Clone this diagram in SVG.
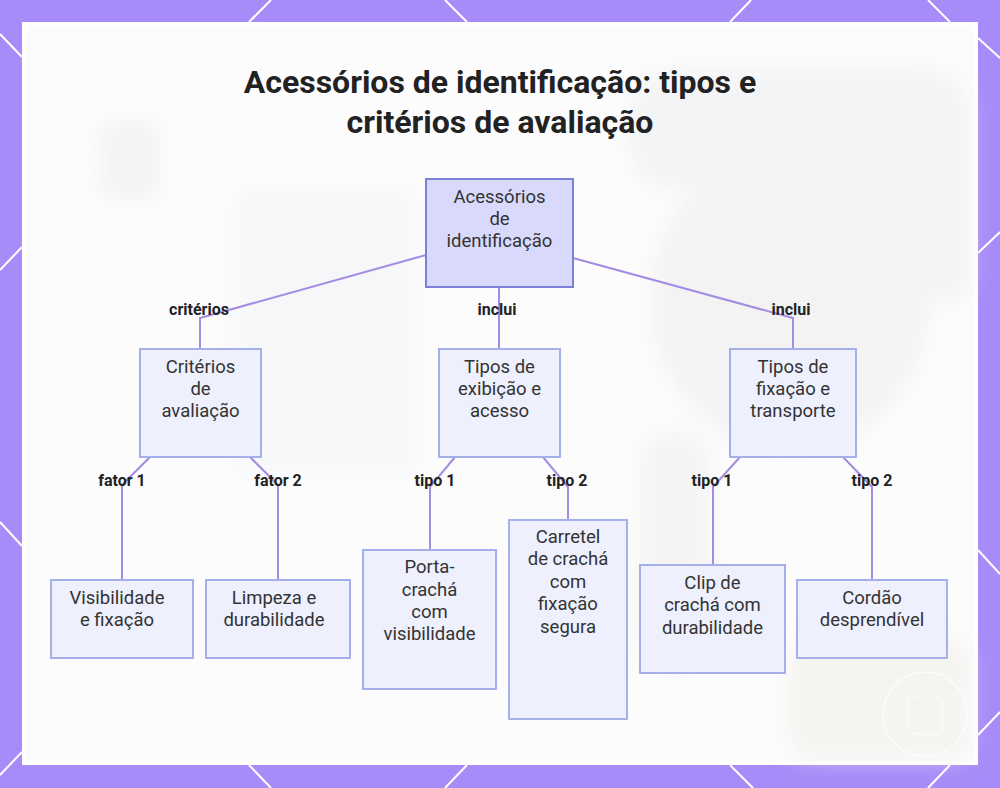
<svg xmlns="http://www.w3.org/2000/svg" width="1000" height="788" viewBox="0 0 1000 788">
  <defs>
    <filter id="blur" x="-20%" y="-20%" width="140%" height="140%">
      <feGaussianBlur stdDeviation="10"/>
    </filter>
    <style>
      .frame-line { stroke: #ffffff; stroke-width: 2; fill: none; }
      .node-root rect { fill: #d9dafb; stroke: #7b80d6; stroke-width: 2; }
      .node rect { fill: #eef0fd; stroke: #a5b0e8; stroke-width: 2; }
      .node text, .node-root text { font-family: Roboto, "Liberation Sans", sans-serif; font-size: 18.5px; fill: #333333; text-anchor: middle; }
      .edge { stroke: #a48be3; stroke-width: 2; fill: none; }
      .elabel { font-family: Roboto, "Liberation Sans", sans-serif; font-size: 16px; font-weight: bold; fill: #222222; text-anchor: middle; }
      .title { font-family: Roboto, "Liberation Sans", sans-serif; font-size: 32px; font-weight: bold; fill: #222222; text-anchor: middle; }
    </style>
  </defs>

  <!-- frame -->
  <rect x="0" y="0" width="1000" height="788" fill="#a78bf8"/>
  <g class="frame-line">
    <line x1="271" y1="0" x2="249" y2="22"/>
    <line x1="445" y1="0" x2="467" y2="22"/>
    <line x1="751" y1="0" x2="730" y2="22"/>
    <line x1="928" y1="0" x2="950" y2="22"/>
    <line x1="249" y1="765" x2="271" y2="788"/>
    <line x1="467" y1="765" x2="445" y2="788"/>
    <line x1="730" y1="765" x2="753" y2="788"/>
    <line x1="950" y1="765" x2="928" y2="788"/>
    <line x1="0" y1="34" x2="22" y2="57"/>
    <line x1="0" y1="270" x2="22" y2="247"/>
    <line x1="0" y1="522" x2="22" y2="546"/>
    <line x1="0" y1="775" x2="22" y2="752"/>
    <line x1="978" y1="38" x2="1000" y2="58"/>
    <line x1="978" y1="253" x2="1000" y2="232"/>
    <line x1="978" y1="550" x2="1000" y2="574"/>
    <line x1="978" y1="735" x2="1000" y2="712"/>
  </g>

  <!-- panel -->
  <rect x="22" y="22" width="956" height="743" fill="#ffffff"/>
  <rect x="26" y="26" width="948" height="735" fill="#fcfcfd"/>
  <g filter="url(#blur)" opacity="0.6">
    <rect x="630" y="70" width="340" height="120" rx="40" fill="#eeeff0"/>
    <rect x="100" y="120" width="60" height="80" rx="20" fill="#eceef0"/>
    <rect x="235" y="190" width="180" height="280" rx="10" fill="#f3f4f6"/>
    <ellipse cx="790" cy="300" rx="140" ry="150" fill="#eeeeef"/>
    <rect x="640" y="430" width="70" height="240" rx="35" fill="#efeff0"/>
    <rect x="890" y="140" width="80" height="160" rx="20" fill="#eeeff0"/>
    <rect x="790" y="640" width="180" height="120" rx="20" fill="#f2efe9"/>
  </g>
  <circle cx="925" cy="714" r="42" fill="none" stroke="#ffffff" stroke-width="1.2" opacity="0.9"/>
  <rect x="908" y="696" width="34" height="38" rx="6" fill="none" stroke="#ffffff" stroke-width="1" opacity="0.8"/>

  <!-- title -->
  <text class="title" x="500" y="93">Acessórios de identificação: tipos e</text>
  <text class="title" x="500" y="133">critérios de avaliação</text>

  <!-- connectors -->
  <g id="connectors">
    <polyline class="edge" points="426,255 200,318 200,349"/>
    <polyline class="edge" points="499,287 499,349"/>
    <polyline class="edge" points="573,258 793,318 793,349"/>
    <polyline class="edge" points="150,457 122,485 122,580"/>
    <polyline class="edge" points="250,457 278,485 278,580"/>
    <polyline class="edge" points="455,457 430,487 430,550"/>
    <polyline class="edge" points="543,457 568,487 568,520"/>
    <polyline class="edge" points="740,457 713,487 713,565"/>
    <polyline class="edge" points="843,457 872,487 872,580"/>
    <text class="elabel" x="199" y="315">critérios</text>
    <text class="elabel" x="497" y="315">inclui</text>
    <text class="elabel" x="791" y="315">inclui</text>
    <text class="elabel" x="122" y="486">fator 1</text>
    <text class="elabel" x="278" y="486">fator 2</text>
    <text class="elabel" x="435" y="486">tipo 1</text>
    <text class="elabel" x="567" y="486">tipo 2</text>
    <text class="elabel" x="712" y="486">tipo 1</text>
    <text class="elabel" x="872" y="486">tipo 2</text>
  </g>

  <!-- nodes -->
  <g id="root" class="node-root">
    <rect x="426" y="179" width="147" height="108"/>
    <text x="499.5" y="203">Acessórios</text>
    <text x="499.5" y="225">de</text>
    <text x="499.5" y="247">identificação</text>
  </g>
  <g id="criterios" class="node">
    <rect x="140" y="349" width="121" height="108"/>
    <text x="200.5" y="373">Critérios</text>
    <text x="200.5" y="395">de</text>
    <text x="200.5" y="417">avaliação</text>
  </g>
  <g id="exibicao" class="node">
    <rect x="439" y="349" width="121" height="108"/>
    <text x="499.5" y="373">Tipos de</text>
    <text x="499.5" y="395">exibição e</text>
    <text x="499.5" y="417">acesso</text>
  </g>
  <g id="fixacao" class="node">
    <rect x="730" y="349" width="126" height="108"/>
    <text x="793" y="373">Tipos de</text>
    <text x="793" y="395">fixação e</text>
    <text x="793" y="417">transporte</text>
  </g>
  <g id="visibilidade" class="node">
    <rect x="51" y="580" width="142" height="78"/>
    <text x="117" y="604">Visibilidade</text>
    <text x="117" y="626">e fixação</text>
  </g>
  <g id="limpeza" class="node">
    <rect x="206" y="580" width="144" height="78"/>
    <text x="274" y="604">Limpeza e</text>
    <text x="274" y="626">durabilidade</text>
  </g>
  <g id="porta" class="node">
    <rect x="363" y="550" width="133" height="139"/>
    <text x="429.5" y="573">Porta-</text>
    <text x="429.5" y="596">crachá</text>
    <text x="429.5" y="618">com</text>
    <text x="429.5" y="640">visibilidade</text>
  </g>
  <g id="carretel" class="node">
    <rect x="509" y="520" width="118" height="199"/>
    <text x="568" y="543">Carretel</text>
    <text x="568" y="565">de crachá</text>
    <text x="568" y="588">com</text>
    <text x="568" y="610">fixação</text>
    <text x="568" y="633">segura</text>
  </g>
  <g id="clip" class="node">
    <rect x="640" y="565" width="145" height="108"/>
    <text x="712.5" y="589">Clip de</text>
    <text x="712.5" y="611">crachá com</text>
    <text x="712.5" y="634">durabilidade</text>
  </g>
  <g id="cordao" class="node">
    <rect x="797" y="580" width="150" height="78"/>
    <text x="872" y="604">Cordão</text>
    <text x="872" y="626">desprendível</text>
  </g>
</svg>
